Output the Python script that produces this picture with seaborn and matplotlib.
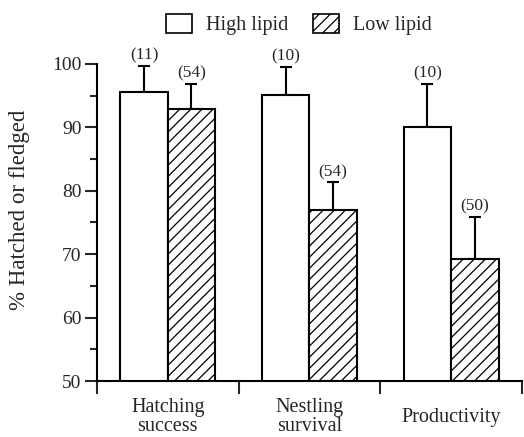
import matplotlib
matplotlib.use("Agg")
import matplotlib.pyplot as plt
import matplotlib.patches as mpatches
import pandas as pd
import seaborn as sns
import numpy as np

CATEGORIES = ["Hatching\nsuccess", "Nestling\nsurvival", "Productivity"]
GROUPS = ["High lipid", "Low lipid"]
HIGH = [95.6, 95.1, 90.1]
LOW = [92.9, 76.9, 69.2]
HIGH_ERR = [4.1, 4.4, 6.7]
LOW_ERR = [3.9, 4.4, 6.6]
HIGH_N = ["(11)", "(10)", "(10)"]
LOW_N = ["(54)", "(54)", "(50)"]


def main():
    sns.set_theme(style="ticks")
    plt.rcParams["font.family"] = ["Liberation Serif", "DejaVu Serif"]
    plt.rcParams["hatch.linewidth"] = 0.9
    plt.rcParams["hatch.color"] = "black"

    df = pd.DataFrame({
        "category": CATEGORIES * 2,
        "group": [GROUPS[0]] * 3 + [GROUPS[1]] * 3,
        "value": HIGH + LOW,
    })

    fig = plt.figure(figsize=(5.24, 4.37), dpi=100)
    ax = fig.add_axes([0.185, 0.128, 0.811, 0.726])

    sns.barplot(data=df, x="category", y="value", hue="group",
                palette=["white", "white"], edgecolor="black", linewidth=1.5,
                width=0.67, errorbar=None, legend=False, ax=ax, zorder=2)

    errs = [HIGH_ERR, LOW_ERR]
    labels = [HIGH_N, LOW_N]
    bar_conts = list(ax.containers)
    for k, cont in enumerate(bar_conts):
        for j, p in enumerate(cont.patches):
            if k == 1:
                p.set_hatch("///")
            xc = p.get_x() + p.get_width() / 2
            top = p.get_height() + p.get_y()
            ax.errorbar(xc, top, yerr=[[0], [errs[k][j]]], fmt="none",
                        ecolor="black", elinewidth=1.5, capsize=4.5,
                        capthick=1.5, zorder=1)
            ax.text(xc, top + errs[k][j] + 0.4, labels[k][j], ha="center",
                    va="bottom", fontsize=12.5)

    ax.set_ylim(50, 100)
    ax.set_xlim(-0.5, 2.5)
    ax.set_yticks(np.arange(50, 101, 10))
    ax.set_yticks(np.arange(55, 100, 10), minor=True)
    ax.tick_params(axis="y", which="major", length=9, width=1.5,
                   labelsize=14, pad=2)
    ax.tick_params(axis="y", which="minor", length=5, width=1.5)

    ax.set_xticks([-0.5, 0.5, 1.5, 2.5])
    ax.set_xticklabels([])
    ax.set_xticks([0, 1, 2], minor=True)
    ax.set_xticklabels(CATEGORIES, minor=True, fontsize=14.5)
    ax.tick_params(axis="x", which="major", length=9, width=1.5)
    ax.tick_params(axis="x", which="minor", length=0, pad=26)
    for t in ax.get_xticklabels(minor=True):
        t.set_va("center")
        t.set_linespacing(1.0)

    ax.set_xlabel("")
    ax.set_ylabel("% Hatched or fledged", fontsize=16.5)
    ax.yaxis.set_label_coords(-0.158, 0.54)
    for s in ["top", "right"]:
        ax.spines[s].set_visible(False)
    for s in ["left", "bottom"]:
        ax.spines[s].set_linewidth(1.5)
        ax.spines[s].set_color("black")

    handles = [mpatches.Patch(facecolor="white", edgecolor="black", lw=1.2),
               mpatches.Patch(facecolor="white", edgecolor="black", lw=1.2,
                              hatch="///")]
    fig.legend(handles, GROUPS, loc="upper center", ncol=2, frameon=False,
               bbox_to_anchor=(0.57, 1.01), fontsize=14.5, handlelength=1.3,
               handleheight=1.1, columnspacing=1.2, handletextpad=0.7)

    fig.savefig("out.png", dpi=100)


if __name__ == "__main__":
    main()
